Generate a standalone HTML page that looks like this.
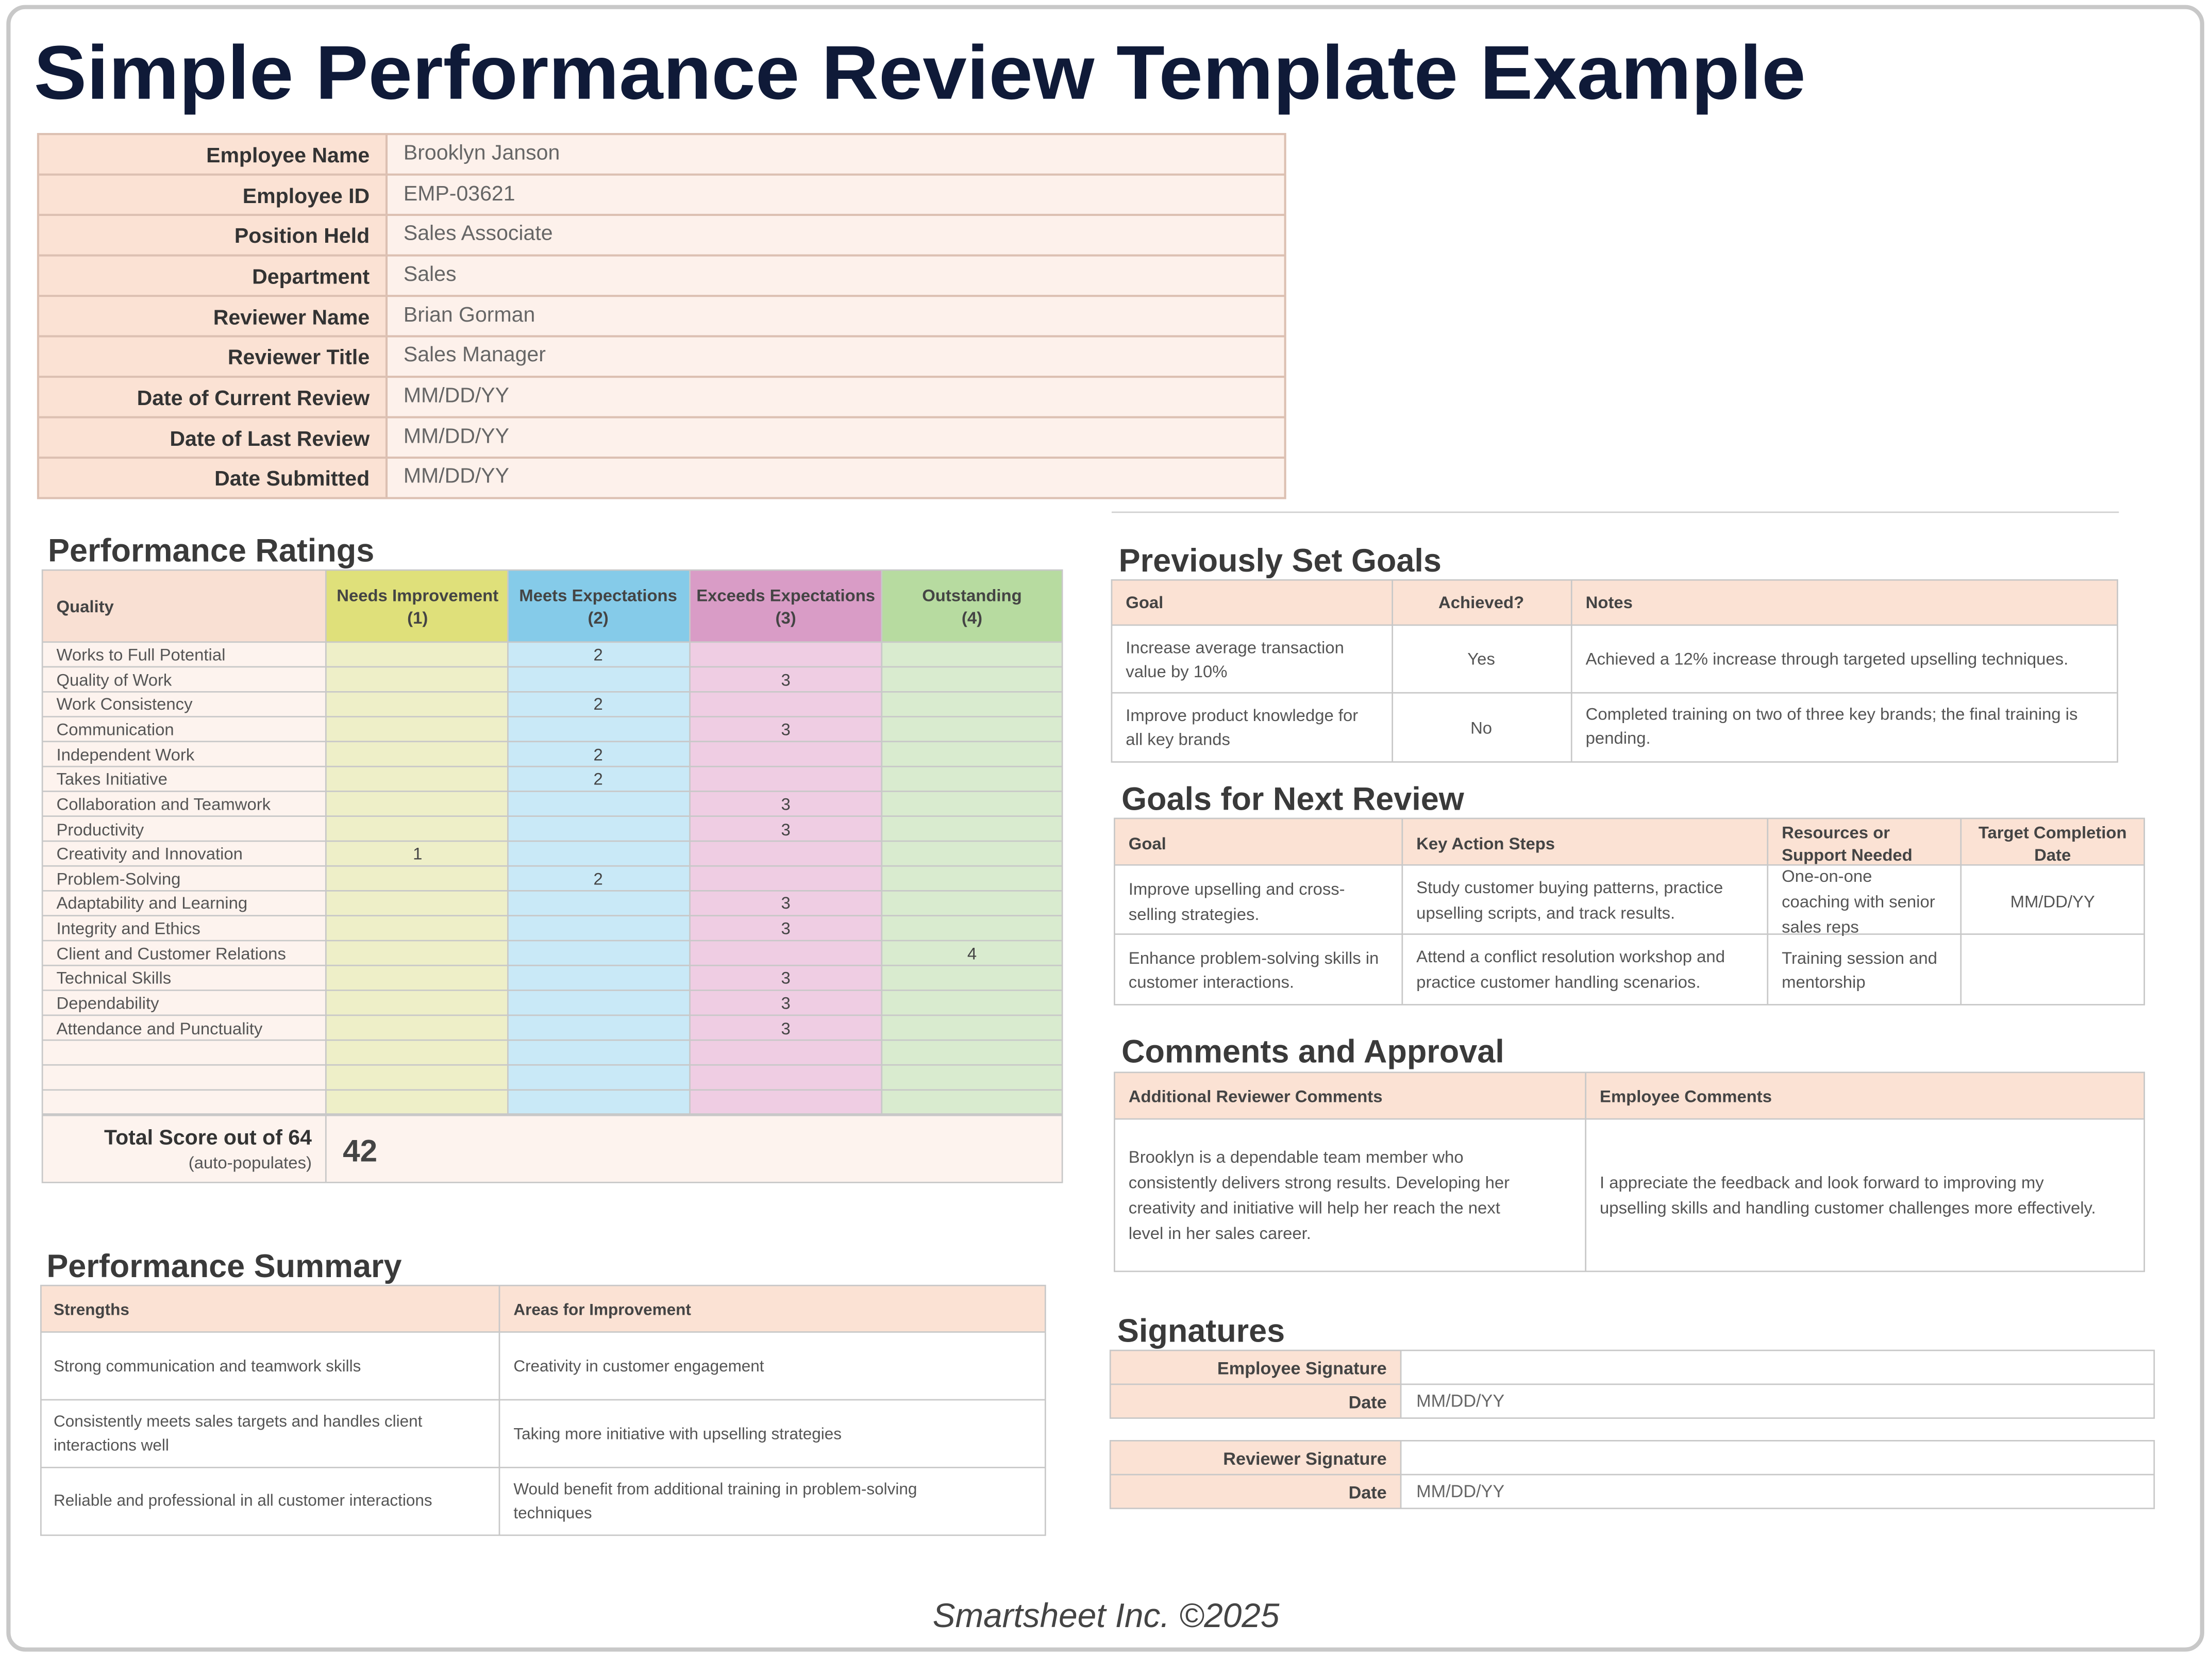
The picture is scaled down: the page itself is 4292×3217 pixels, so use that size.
<!DOCTYPE html>
<html><head><meta charset="utf-8"><style>
html,body{margin:0;padding:0;background:#fff;}
svg{display:block;}
text{font-family:"Liberation Sans",sans-serif;}
</style></head><body>
<svg width="4292" height="3217" viewBox="0 0 1568 1175" preserveAspectRatio="none" xmlns="http://www.w3.org/2000/svg">
<rect x="0" y="0" width="1568" height="1175" fill="#fff"/>
<rect x="6" y="5" width="1555" height="1164" rx="12" fill="#fff" stroke="#c8c8c8" stroke-width="3"/>
<text x="24" y="70" font-size="54" font-weight="bold" fill="#0f1a38" textLength="1256" lengthAdjust="spacingAndGlyphs">Simple Performance Review Template Example</text>

<!-- Employee info -->
<g font-size="15">
<rect x="27" y="95" width="247" height="258" fill="#fbe2d4"/>
<rect x="274" y="95" width="637" height="258" fill="#fdf1eb"/>
<g stroke="#dcc0b2" stroke-width="1.5" fill="none">
<rect x="27" y="95" width="884" height="258"/>
<line x1="274" y1="95" x2="274" y2="353"/>
<line x1="27" y1="123.7" x2="911" y2="123.7"/><line x1="27" y1="152.3" x2="911" y2="152.3"/><line x1="27" y1="181" x2="911" y2="181"/><line x1="27" y1="209.7" x2="911" y2="209.7"/><line x1="27" y1="238.3" x2="911" y2="238.3"/><line x1="27" y1="267" x2="911" y2="267"/><line x1="27" y1="295.7" x2="911" y2="295.7"/><line x1="27" y1="324.3" x2="911" y2="324.3"/>
</g>
<g text-anchor="end" font-weight="bold" fill="#333">
<text x="262" y="115">Employee Name</text><text x="262" y="144">Employee ID</text><text x="262" y="172">Position Held</text><text x="262" y="201">Department</text><text x="262" y="230">Reviewer Name</text><text x="262" y="258">Reviewer Title</text><text x="262" y="287">Date of Current Review</text><text x="262" y="316">Date of Last Review</text><text x="262" y="344">Date Submitted</text>
</g>
<g fill="#666">
<text x="286" y="113">Brooklyn Janson</text><text x="286" y="142">EMP-03621</text><text x="286" y="170">Sales Associate</text><text x="286" y="199">Sales</text><text x="286" y="228">Brian Gorman</text><text x="286" y="256">Sales Manager</text><text x="286" y="285">MM/DD/YY</text><text x="286" y="314">MM/DD/YY</text><text x="286" y="342">MM/DD/YY</text>
</g>
</g>
<line x1="788" y1="363" x2="1502" y2="363" stroke="#d0d0d0" stroke-width="1"/>

<!-- Performance Ratings -->
<text x="34" y="398" font-size="23" font-weight="bold" fill="#3a3a3a">Performance Ratings</text>
<rect x="30" y="404" width="201" height="51" fill="#f9e0d3"/>
<rect x="231" y="404" width="129" height="51" fill="#dfe07a"/>
<rect x="360" y="404" width="129" height="51" fill="#85cbe9"/>
<rect x="489" y="404" width="136" height="51" fill="#d99cc6"/>
<rect x="625" y="404" width="128" height="51" fill="#b7dba0"/>
<rect x="30" y="455" width="201" height="335" fill="#fdf3ee"/>
<rect x="231" y="455" width="129" height="335" fill="#eeefc8"/>
<rect x="360" y="455" width="129" height="335" fill="#c9e9f7"/>
<rect x="489" y="455" width="136" height="335" fill="#efcde3"/>
<rect x="625" y="455" width="128" height="335" fill="#d9ebcf"/>
<rect x="30" y="790" width="723" height="48" fill="#fdf3ee"/>
<g stroke="#c8c8c8" stroke-width="1" fill="none">
<rect x="30" y="404" width="723" height="434"/>
<line x1="231" y1="404" x2="231" y2="838"/><line x1="360" y1="404" x2="360" y2="790"/><line x1="489" y1="404" x2="489" y2="790"/><line x1="625" y1="404" x2="625" y2="790"/>
<line x1="30" y1="455" x2="753" y2="455"/>
<line x1="30" y1="472.6" x2="753" y2="472.6"/><line x1="30" y1="490.3" x2="753" y2="490.3"/><line x1="30" y1="507.9" x2="753" y2="507.9"/><line x1="30" y1="525.5" x2="753" y2="525.5"/><line x1="30" y1="543.2" x2="753" y2="543.2"/><line x1="30" y1="560.8" x2="753" y2="560.8"/><line x1="30" y1="578.4" x2="753" y2="578.4"/><line x1="30" y1="596.1" x2="753" y2="596.1"/><line x1="30" y1="613.7" x2="753" y2="613.7"/><line x1="30" y1="631.3" x2="753" y2="631.3"/><line x1="30" y1="648.9" x2="753" y2="648.9"/><line x1="30" y1="666.6" x2="753" y2="666.6"/><line x1="30" y1="684.2" x2="753" y2="684.2"/><line x1="30" y1="701.8" x2="753" y2="701.8"/><line x1="30" y1="719.5" x2="753" y2="719.5"/><line x1="30" y1="737.1" x2="753" y2="737.1"/><line x1="30" y1="754.7" x2="753" y2="754.7"/><line x1="30" y1="772.4" x2="753" y2="772.4"/>
<line x1="30" y1="790" x2="753" y2="790" stroke-width="2"/>
</g>
<g font-size="12" font-weight="bold" fill="#444" text-anchor="middle">
<text x="40" y="434" text-anchor="start">Quality</text>
<text x="296" y="426">Needs Improvement</text><text x="296" y="442">(1)</text>
<text x="424" y="426">Meets Expectations</text><text x="424" y="442">(2)</text>
<text x="557" y="426">Exceeds Expectations</text><text x="557" y="442">(3)</text>
<text x="689" y="426">Outstanding</text><text x="689" y="442">(4)</text>
</g>
<g font-size="12" fill="#555">
<text x="40" y="468">Works to Full Potential</text><text x="40" y="486">Quality of Work</text><text x="40" y="503">Work Consistency</text><text x="40" y="521">Communication</text><text x="40" y="539">Independent Work</text><text x="40" y="556">Takes Initiative</text><text x="40" y="574">Collaboration and Teamwork</text><text x="40" y="592">Productivity</text><text x="40" y="609">Creativity and Innovation</text><text x="40" y="627">Problem-Solving</text><text x="40" y="644">Adaptability and Learning</text><text x="40" y="662">Integrity and Ethics</text><text x="40" y="680">Client and Customer Relations</text><text x="40" y="697">Technical Skills</text><text x="40" y="715">Dependability</text><text x="40" y="733">Attendance and Punctuality</text>
</g>
<g font-size="12" fill="#444" text-anchor="middle">
<text x="424" y="468">2</text><text x="557" y="486">3</text><text x="424" y="503">2</text><text x="557" y="521">3</text><text x="424" y="539">2</text><text x="424" y="556">2</text><text x="557" y="574">3</text><text x="557" y="592">3</text><text x="296" y="609">1</text><text x="424" y="627">2</text><text x="557" y="644">3</text><text x="557" y="662">3</text><text x="689" y="680">4</text><text x="557" y="697">3</text><text x="557" y="715">3</text><text x="557" y="733">3</text>
</g>
<text x="221" y="811" font-size="15" font-weight="bold" fill="#333" text-anchor="end">Total Score out of 64</text>
<text x="221" y="828" font-size="12" fill="#555" text-anchor="end">(auto-populates)</text>
<text x="243" y="823" font-size="22" font-weight="bold" fill="#444">42</text>

<!-- Performance Summary -->
<text x="33" y="905" font-size="23" font-weight="bold" fill="#3a3a3a">Performance Summary</text>
<rect x="29" y="911" width="712" height="33" fill="#fbe2d4"/>
<g stroke="#c8c8c8" stroke-width="1" fill="none">
<rect x="29" y="911" width="712" height="177"/>
<line x1="354" y1="911" x2="354" y2="1088"/>
<line x1="29" y1="944" x2="741" y2="944"/><line x1="29" y1="992" x2="741" y2="992"/><line x1="29" y1="1040" x2="741" y2="1040"/>
</g>
<g font-size="11.5" fill="#555">
<text x="38" y="932" font-weight="bold" fill="#444">Strengths</text><text x="364" y="932" font-weight="bold" fill="#444">Areas for Improvement</text>
<text x="38" y="972">Strong communication and teamwork skills</text>
<text x="364" y="972">Creativity in customer engagement</text>
<text x="38" y="1011">Consistently meets sales targets and handles client</text><text x="38" y="1028">interactions well</text>
<text x="364" y="1020">Taking more initiative with upselling strategies</text>
<text x="38" y="1067">Reliable and professional in all customer interactions</text>
<text x="364" y="1059">Would benefit from additional training in problem-solving</text><text x="364" y="1076">techniques</text>
</g>

<!-- Previously Set Goals -->
<text x="793" y="405" font-size="23" font-weight="bold" fill="#3a3a3a">Previously Set Goals</text>
<rect x="788" y="411" width="713" height="32" fill="#fbe2d4"/>
<g stroke="#c8c8c8" stroke-width="1" fill="none">
<rect x="788" y="411" width="713" height="129"/>
<line x1="987" y1="411" x2="987" y2="540"/><line x1="1114" y1="411" x2="1114" y2="540"/>
<line x1="788" y1="443" x2="1501" y2="443"/><line x1="788" y1="491" x2="1501" y2="491"/>
</g>
<g font-size="12" fill="#555">
<text x="798" y="431" font-weight="bold" fill="#444">Goal</text><text x="1050" y="431" font-weight="bold" fill="#444" text-anchor="middle">Achieved?</text><text x="1124" y="431" font-weight="bold" fill="#444">Notes</text>
<text x="798" y="463">Increase average transaction</text><text x="798" y="480">value by 10%</text>
<text x="1050" y="471" text-anchor="middle">Yes</text>
<text x="1124" y="471">Achieved a 12% increase through targeted upselling techniques.</text>
<text x="798" y="511">Improve product knowledge for</text><text x="798" y="528">all key brands</text>
<text x="1050" y="520" text-anchor="middle">No</text>
<text x="1124" y="510">Completed training on two of three key brands; the final training is</text><text x="1124" y="527">pending.</text>
</g>

<!-- Goals for Next Review -->
<text x="795" y="574" font-size="23" font-weight="bold" fill="#3a3a3a">Goals for Next Review</text>
<rect x="790" y="580" width="730" height="33" fill="#fbe2d4"/>
<g stroke="#c8c8c8" stroke-width="1" fill="none">
<rect x="790" y="580" width="730" height="132"/>
<line x1="994" y1="580" x2="994" y2="712"/><line x1="1253" y1="580" x2="1253" y2="712"/><line x1="1390" y1="580" x2="1390" y2="712"/>
<line x1="790" y1="613" x2="1520" y2="613"/><line x1="790" y1="662" x2="1520" y2="662"/>
</g>
<g font-size="12" fill="#555">
<text x="800" y="602" font-weight="bold" fill="#444">Goal</text><text x="1004" y="602" font-weight="bold" fill="#444">Key Action Steps</text>
<text x="1263" y="594" font-weight="bold" fill="#444">Resources or</text><text x="1263" y="610" font-weight="bold" fill="#444">Support Needed</text>
<text x="1455" y="594" font-weight="bold" fill="#444" text-anchor="middle">Target Completion</text><text x="1455" y="610" font-weight="bold" fill="#444" text-anchor="middle">Date</text>
<text x="800" y="634">Improve upselling and cross-</text><text x="800" y="652">selling strategies.</text>
<text x="1004" y="633">Study customer buying patterns, practice</text><text x="1004" y="651">upselling scripts, and track results.</text>
<text x="1263" y="625">One-on-one</text><text x="1263" y="643">coaching with senior</text><text x="1263" y="661">sales reps</text>
<text x="1455" y="643" text-anchor="middle">MM/DD/YY</text>
<text x="800" y="683">Enhance problem-solving skills in</text><text x="800" y="700">customer interactions.</text>
<text x="1004" y="682">Attend a conflict resolution workshop and</text><text x="1004" y="700">practice customer handling scenarios.</text>
<text x="1263" y="683">Training session and</text><text x="1263" y="700">mentorship</text>
</g>

<!-- Comments and Approval -->
<text x="795" y="753" font-size="23" font-weight="bold" fill="#3a3a3a">Comments and Approval</text>
<rect x="790" y="760" width="730" height="33" fill="#fbe2d4"/>
<g stroke="#c8c8c8" stroke-width="1" fill="none">
<rect x="790" y="760" width="730" height="141"/>
<line x1="1124" y1="760" x2="1124" y2="901"/><line x1="790" y1="793" x2="1520" y2="793"/>
</g>
<g font-size="12" fill="#555">
<text x="800" y="781" font-weight="bold" fill="#444">Additional Reviewer Comments</text><text x="1134" y="781" font-weight="bold" fill="#444">Employee Comments</text>
<text x="800" y="824">Brooklyn is a dependable team member who</text><text x="800" y="842">consistently delivers strong results. Developing her</text><text x="800" y="860">creativity and initiative will help her reach the next</text><text x="800" y="878">level in her sales career.</text>
<text x="1134" y="842">I appreciate the feedback and look forward to improving my</text><text x="1134" y="860">upselling skills and handling customer challenges more effectively.</text>
</g>

<!-- Signatures -->
<text x="792" y="951" font-size="23" font-weight="bold" fill="#3a3a3a">Signatures</text>
<rect x="787" y="957" width="206" height="48" fill="#fbe2d4"/>
<rect x="787" y="1021" width="206" height="48" fill="#fbe2d4"/>
<g stroke="#c8c8c8" stroke-width="1" fill="none">
<rect x="787" y="957" width="740" height="48"/><line x1="787" y1="981" x2="1527" y2="981"/><line x1="993" y1="957" x2="993" y2="1005"/>
<rect x="787" y="1021" width="740" height="48"/><line x1="787" y1="1045" x2="1527" y2="1045"/><line x1="993" y1="1021" x2="993" y2="1069"/>
</g>
<g font-size="12.5" font-weight="bold" fill="#444" text-anchor="end">
<text x="983" y="974">Employee Signature</text><text x="983" y="998">Date</text>
<text x="983" y="1038">Reviewer Signature</text><text x="983" y="1062">Date</text>
</g>
<g font-size="12.5" fill="#666">
<text x="1004" y="997">MM/DD/YY</text><text x="1004" y="1061">MM/DD/YY</text>
</g>

<text x="784" y="1153" font-size="24" font-style="italic" fill="#444" text-anchor="middle">Smartsheet Inc. ©2025</text>
</svg>
</body></html>
